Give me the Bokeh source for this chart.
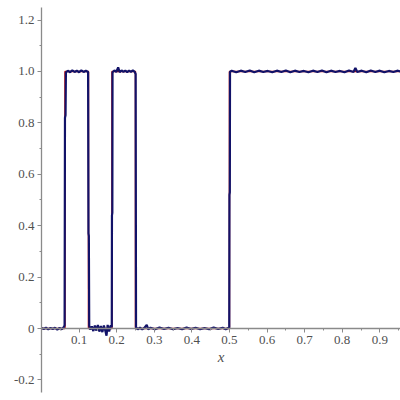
from bokeh.plotting import figure
from bokeh.models import FixedTicker, Range1d
from bokeh.embed import file_html
from bokeh.resources import INLINE

# exact solution (square pulses)
exact_x = [0.0, 0.0625, 0.0625, 0.125, 0.125, 0.1875, 0.1875, 0.25, 0.25, 0.5, 0.5, 1.0]
exact_y = [0.0, 0.0, 1.0, 1.0, 0.0, 0.0, 1.0, 1.0, 0.0, 0.0, 1.0, 1.0]

# numerical approximation (with small oscillations)
approx_x = [0.000, 0.006, 0.012, 0.018, 0.024, 0.030, 0.036, 0.042, 0.048, 0.054, 0.059, 0.0615,
            0.0625, 0.0640, 0.0650, 0.070, 0.076, 0.082, 0.088, 0.094, 0.100, 0.106, 0.112, 0.118, 0.1240,
            0.1250, 0.1260, 0.1270, 0.1300, 0.134, 0.138, 0.142, 0.146, 0.150, 0.154, 0.158, 0.162, 0.166,
            0.170, 0.173, 0.176, 0.180, 0.184, 0.1870,
            0.1875, 0.1885, 0.1890, 0.194, 0.199, 0.204, 0.208, 0.213, 0.218, 0.223, 0.228, 0.233, 0.238,
            0.243, 0.248, 0.2505,
            0.2515, 0.256, 0.262, 0.268, 0.274, 0.280, 0.284, 0.290, 0.302, 0.314, 0.326, 0.338, 0.350,
            0.362, 0.374, 0.386, 0.398, 0.410, 0.422, 0.434, 0.446, 0.458, 0.470, 0.482, 0.490, 0.4995,
            0.5000, 0.5010, 0.5015, 0.506, 0.518, 0.530, 0.542, 0.554, 0.566, 0.578, 0.590, 0.602, 0.614,
            0.626, 0.638, 0.650, 0.662, 0.674, 0.686, 0.698, 0.710, 0.722, 0.734, 0.746, 0.758, 0.770,
            0.782, 0.794, 0.806, 0.818, 0.830, 0.835, 0.840, 0.852, 0.864, 0.876, 0.888, 0.900, 0.912,
            0.924, 0.936, 0.948, 0.960, 0.972, 0.984, 1.000]
approx_y = [0.002, -0.002, 0.003, -0.003, 0.002, -0.002, 0.003, -0.004, 0.002, -0.003, 0.005, 0.012,
            0.82, 0.83, 0.996, 1.003, 0.997, 1.004, 0.998, 1.003, 0.997, 1.004, 0.998, 1.003, 0.998,
            0.37, 0.36, 0.010, -0.004, 0.008, -0.010, 0.012, -0.008, 0.014, -0.012, 0.010, -0.014, 0.012,
            -0.010, -0.028, 0.014, -0.012, 0.012, 0.005,
            0.44, 0.45, 0.997, 1.004, 0.998, 1.016, 0.997, 1.004, 0.998, 1.003, 0.997, 1.003, 0.998,
            1.004, 0.998, 0.990,
            0.005, -0.003, 0.003, -0.003, 0.003, 0.014, -0.003, 0.003, -0.003, 0.004, -0.002, 0.003, -0.003,
            0.002, -0.003, 0.004, -0.002, 0.003, -0.003, 0.002, -0.003, 0.004, -0.002, 0.003, -0.003, 0.004,
            0.52, 0.53, 0.998, 1.003, 0.997, 1.003, 0.998, 1.004, 0.997, 1.003, 0.998, 1.002, 0.997,
            1.003, 0.998, 1.004, 0.997, 1.003, 0.998, 1.002, 0.997, 1.003, 0.998, 1.004, 0.997, 1.003,
            0.998, 1.002, 0.997, 1.004, 0.998, 1.014, 0.998, 1.003, 0.997, 1.004, 0.998, 1.003, 0.997,
            1.002, 0.998, 1.003, 0.997, 1.004, 0.998, 1.003, 0.998]

x_ticks = [0.1, 0.2, 0.3, 0.4, 0.5, 0.6, 0.7, 0.8, 0.9]
x_tick_labels = ["0.1", "0.2", "0.3", "0.4", "0.5", "0.6", "0.7", "0.8", "0.9"]
x_minor = [0.05, 0.15, 0.25, 0.35, 0.45, 0.55, 0.65, 0.75, 0.85, 0.95]
y_ticks = [-0.2, 0.0, 0.2, 0.4, 0.6, 0.8, 1.0, 1.2]
y_tick_labels = ["-0.2", "0", "0.2", "0.4", "0.6", "0.8", "1.0", "1.2"]
y_minor = [-0.1, 0.1, 0.3, 0.5, 0.7, 0.9, 1.1]

p = figure(width=400, height=400, output_backend="svg", toolbar_location=None,
           x_range=Range1d(-0.109, 0.955), y_range=Range1d(-0.280, 1.276),
           min_border=0)
p.grid.visible = False
p.outline_line_color = None

p.line(exact_x, exact_y, line_color="#c01010", line_width=1.5)
p.line(approx_x, approx_y, line_color="#121268", line_width=2.2)

axis_col = "#8a8a8a"
lab_col = "#505050"
serif = "Liberation Serif"
for ax in (p.xaxis[0], p.yaxis[0]):
    ax.fixed_location = 0
    ax.axis_line_color = axis_col
    ax.axis_line_width = 1.3
    ax.major_tick_line_color = axis_col
    ax.minor_tick_line_color = axis_col
    ax.major_tick_in = 0
    ax.major_tick_out = 4
    ax.minor_tick_in = 0
    ax.minor_tick_out = 2
    ax.major_label_text_font = serif
    ax.major_label_text_font_style = "normal"
    ax.major_label_text_font_size = "13px"
    ax.major_label_text_color = lab_col
    ax.major_label_standoff = 3

p.xaxis[0].bounds = (0, 1)
p.yaxis[0].bounds = (-0.25, 1.25)
p.xaxis[0].ticker = FixedTicker(ticks=x_ticks, minor_ticks=x_minor)
p.xaxis[0].major_label_overrides = dict(zip(x_ticks, x_tick_labels))
p.yaxis[0].ticker = FixedTicker(ticks=y_ticks, minor_ticks=y_minor)
p.yaxis[0].major_label_overrides = dict(zip(y_ticks, y_tick_labels))

p.xaxis[0].axis_label = "x"
p.xaxis[0].axis_label_text_font = serif
p.xaxis[0].axis_label_text_font_style = "italic"
p.xaxis[0].axis_label_text_font_size = "15px"
p.xaxis[0].axis_label_text_color = lab_col
p.xaxis[0].axis_label_standoff = 2

open("out.html", "w").write(file_html(p, INLINE))
